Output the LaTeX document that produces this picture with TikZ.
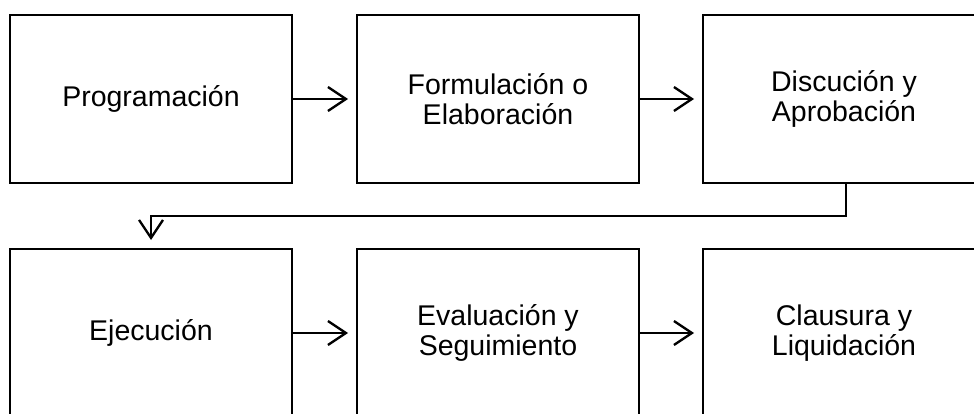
\documentclass[tikz,border=0pt]{standalone}
\usepackage{fontspec}
\setmainfont{Liberation Sans}
\usetikzlibrary{arrows.meta}
\begin{document}
\begin{tikzpicture}[x=1pt,y=-1pt,
  stepbox/.style={draw,line width=2pt,minimum width=282pt,minimum height=168pt,
    inner sep=0pt,align=center,font=\fontsize{28.5}{30}\selectfont},
  conn/.style={line width=2pt,-{Straight Barb[length=18pt,width=24pt,line width=2.3pt]},shorten >=8pt}]
\useasboundingbox (0,0) rectangle (974,414);
\node[stepbox] (a) at (151,99) {Programación};
\node[stepbox] (b) at (498,99) {Formulación o\\Elaboración};
\node[stepbox] (c) at (844,99) {Discución y\\Aprobación};
\node[stepbox] (d) at (151,333) {Ejecución};
\node[stepbox] (e) at (498,333) {Evaluación y\\Seguimiento};
\node[stepbox] (f) at (844,333) {Clausura y\\Liquidación};
\draw[conn] (a) -- (b);
\draw[conn] (b) -- (c);
\draw[conn] (d) -- (e);
\draw[conn] (e) -- (f);
\coordinate (k1) at (846,216);
\coordinate (k2) at (151,216);
\draw[conn] (c.south -| k1) -- (k1) -- (k2) -- (d.north);
\end{tikzpicture}
\end{document}
